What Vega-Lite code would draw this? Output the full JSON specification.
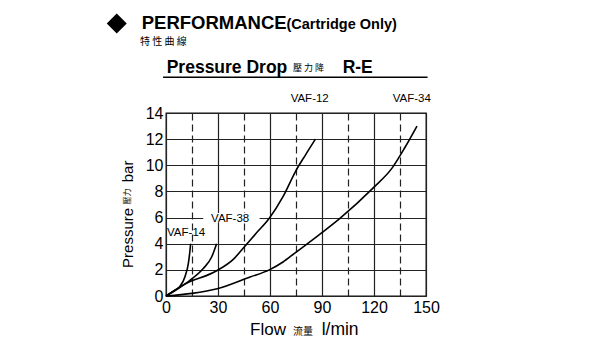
{
  "$schema": "https://vega.github.io/schema/vega-lite/v6.json",
  "autosize": {"type": "none"},
  "width": 260,
  "height": 183,
  "padding": {"left": 166, "top": 113, "right": 174, "bottom": 54},
  "background": "white",
  "config": {"font": "Liberation Sans", "view": {"stroke": "#111", "strokeWidth": 1.3}},
  "resolve": {"axis": {"x": "independent", "y": "independent"}},
  "datasets": {
    "curves": [
      {"series": "VAF-14", "flow": 0, "pressure": 0},
      {"series": "VAF-14", "flow": 2.3, "pressure": 0.2},
      {"series": "VAF-14", "flow": 5, "pressure": 0.42},
      {"series": "VAF-14", "flow": 8.1, "pressure": 0.75},
      {"series": "VAF-14", "flow": 11, "pressure": 1.5},
      {"series": "VAF-14", "flow": 12.9, "pressure": 2.5},
      {"series": "VAF-14", "flow": 13.6, "pressure": 3.2},
      {"series": "VAF-14", "flow": 14.2, "pressure": 4.0},
      {"series": "VAF-38", "flow": 0, "pressure": 0},
      {"series": "VAF-38", "flow": 6.2, "pressure": 0.5},
      {"series": "VAF-38", "flow": 13.8, "pressure": 1.2},
      {"series": "VAF-38", "flow": 21.5, "pressure": 2.1},
      {"series": "VAF-38", "flow": 26.4, "pressure": 3.0},
      {"series": "VAF-38", "flow": 29.2, "pressure": 4.0},
      {"series": "VAF-12", "flow": 0, "pressure": 0},
      {"series": "VAF-12", "flow": 10, "pressure": 0.85},
      {"series": "VAF-12", "flow": 29.5, "pressure": 1.95},
      {"series": "VAF-12", "flow": 38.8, "pressure": 2.8},
      {"series": "VAF-12", "flow": 44.5, "pressure": 3.65},
      {"series": "VAF-12", "flow": 52, "pressure": 4.8},
      {"series": "VAF-12", "flow": 59.6, "pressure": 5.95},
      {"series": "VAF-12", "flow": 67.5, "pressure": 7.6},
      {"series": "VAF-12", "flow": 75, "pressure": 9.6},
      {"series": "VAF-12", "flow": 80.5, "pressure": 10.8},
      {"series": "VAF-12", "flow": 86.2, "pressure": 12.0},
      {"series": "VAF-34", "flow": 0, "pressure": 0},
      {"series": "VAF-34", "flow": 15, "pressure": 0.2},
      {"series": "VAF-34", "flow": 29.6, "pressure": 0.55},
      {"series": "VAF-34", "flow": 48.5, "pressure": 1.45},
      {"series": "VAF-34", "flow": 59.6, "pressure": 2.0},
      {"series": "VAF-34", "flow": 67.5, "pressure": 2.6},
      {"series": "VAF-34", "flow": 74.5, "pressure": 3.3},
      {"series": "VAF-34", "flow": 88.5, "pressure": 4.7},
      {"series": "VAF-34", "flow": 100, "pressure": 5.9},
      {"series": "VAF-34", "flow": 119.4, "pressure": 8.25},
      {"series": "VAF-34", "flow": 130.5, "pressure": 9.8},
      {"series": "VAF-34", "flow": 138, "pressure": 11.4},
      {"series": "VAF-34", "flow": 144.8, "pressure": 13.0}
    ]
  },
  "layer": [
    {
      "data": {"name": "curves"},
      "mark": {"type": "line", "interpolate": "monotone", "color": "black", "strokeWidth": 1.6},
      "encoding": {
        "x": {"field": "flow", "type": "quantitative", "scale": {"domain": [0, 150], "nice": false, "zero": false},
          "axis": {"zindex": 0, "values": [0, 15, 30, 45, 60, 75, 90, 105, 120, 135, 150], "labelExpr": "datum.value % 30 === 0 ? datum.label : ''", "title": null, "domain": false, "ticks": false, "grid": true, "gridColor": "#222", "gridWidth": 1.2, "gridDash": {"condition": {"test": "datum.value % 30 !== 0", "value": [7, 4]}, "value": [1, 0]}, "labelFont": "Liberation Sans", "labelFontSize": 16, "labelColor": "black", "labelPadding": 3, "labelFlush": false, "labelOverlap": false}},
        "y": {"field": "pressure", "type": "quantitative", "scale": {"domain": [0, 14], "nice": false, "zero": false},
          "axis": {"zindex": 0, "values": [0, 2, 4, 6, 8, 10, 12, 14], "title": null, "domain": false, "ticks": false, "grid": true, "gridColor": "#222", "gridWidth": 1.2, "labelFont": "Liberation Sans", "labelFontSize": 16, "labelColor": "black", "labelPadding": 3, "labelOverlap": false}},
        "detail": {"field": "series"}
      }
    },
    {
      "data": {"values": [{}]},
      "mark": {"type": "rect", "color": "white", "opacity": 1},
      "encoding": {
        "x": {"datum": 21.5, "type": "quantitative", "axis": null},
        "x2": {"datum": 54},
        "y": {"datum": 5.65, "type": "quantitative", "axis": null},
        "y2": {"datum": 6.35}
      }
    },
    {
      "data": {"values": [{}]},
      "mark": {"type": "point", "shape": "diamond", "filled": true, "color": "black", "size": 400, "opacity": 1},
      "encoding": {"x": {"datum": -28.4, "type": "quantitative", "axis": null}, "y": {"datum": 20.85, "type": "quantitative", "axis": null}}
    },
    {
      "data": {"values": [{}]},
      "mark": {"type": "text", "text": "PERFORMANCE", "font": "Liberation Sans", "fontWeight": "bold", "fontSize": 18.5, "align": "left", "baseline": "alphabetic", "color": "black"},
      "encoding": {"x": {"datum": -14.0, "type": "quantitative", "axis": null}, "y": {"datum": 20.42, "type": "quantitative", "axis": null}}
    },
    {
      "data": {"values": [{}]},
      "mark": {"type": "text", "text": "(Cartridge Only)", "font": "Liberation Sans", "fontWeight": "bold", "fontSize": 14.5, "align": "left", "baseline": "alphabetic", "color": "black"},
      "encoding": {"x": {"datum": 69.5, "type": "quantitative", "axis": null}, "y": {"datum": 20.42, "type": "quantitative", "axis": null}}
    },
    {
      "data": {"values": [{}]},
      "mark": {"type": "text", "text": "特 性 曲 線", "font": "Noto Sans CJK TC", "fontSize": 10, "align": "left", "baseline": "alphabetic", "color": "black"},
      "encoding": {"x": {"datum": -15.0, "type": "quantitative", "axis": null}, "y": {"datum": 19.23, "type": "quantitative", "axis": null}}
    },
    {
      "data": {"values": [{}]},
      "mark": {"type": "text", "text": "Pressure Drop", "font": "Liberation Sans", "fontWeight": "bold", "fontSize": 17.5, "align": "left", "baseline": "alphabetic", "color": "black"},
      "encoding": {"x": {"datum": 0.4, "type": "quantitative", "axis": null}, "y": {"datum": 17.08, "type": "quantitative", "axis": null}}
    },
    {
      "data": {"values": [{}]},
      "mark": {"type": "text", "text": "壓 力 降", "font": "Noto Sans CJK TC", "fontSize": 9, "align": "left", "baseline": "alphabetic", "color": "black"},
      "encoding": {"x": {"datum": 73.3, "type": "quantitative", "axis": null}, "y": {"datum": 17.2, "type": "quantitative", "axis": null}}
    },
    {
      "data": {"values": [{}]},
      "mark": {"type": "text", "text": "R-E", "font": "Liberation Sans", "fontWeight": "bold", "fontSize": 17.5, "align": "left", "baseline": "alphabetic", "color": "black"},
      "encoding": {"x": {"datum": 101.9, "type": "quantitative", "axis": null}, "y": {"datum": 17.08, "type": "quantitative", "axis": null}}
    },
    {
      "data": {"values": [{}]},
      "mark": {"type": "rule", "color": "black", "strokeWidth": 1.5},
      "encoding": {"x": {"datum": -1.7, "type": "quantitative", "axis": null}, "x2": {"datum": 150.9}, "y": {"datum": 16.73, "type": "quantitative", "axis": null}}
    },
    {
      "data": {"values": [{}]},
      "mark": {"type": "text", "text": "VAF-14", "font": "Liberation Sans", "fontSize": 11.5, "align": "left", "baseline": "alphabetic", "color": "black"},
      "encoding": {"x": {"datum": 0.6, "type": "quantitative", "axis": null}, "y": {"datum": 4.6, "type": "quantitative", "axis": null}}
    },
    {
      "data": {"values": [{}]},
      "mark": {"type": "text", "text": "VAF-38", "font": "Liberation Sans", "fontSize": 11.5, "align": "left", "baseline": "alphabetic", "color": "black"},
      "encoding": {"x": {"datum": 26.0, "type": "quantitative", "axis": null}, "y": {"datum": 5.64, "type": "quantitative", "axis": null}}
    },
    {
      "data": {"values": [{}]},
      "mark": {"type": "text", "text": "VAF-12", "font": "Liberation Sans", "fontSize": 11.5, "align": "left", "baseline": "alphabetic", "color": "black"},
      "encoding": {"x": {"datum": 71.9, "type": "quantitative", "axis": null}, "y": {"datum": 14.82, "type": "quantitative", "axis": null}}
    },
    {
      "data": {"values": [{}]},
      "mark": {"type": "text", "text": "VAF-34", "font": "Liberation Sans", "fontSize": 11.5, "align": "left", "baseline": "alphabetic", "color": "black"},
      "encoding": {"x": {"datum": 130.8, "type": "quantitative", "axis": null}, "y": {"datum": 14.82, "type": "quantitative", "axis": null}}
    },
    {
      "data": {"values": [{}]},
      "mark": {"type": "text", "text": "Flow", "font": "Liberation Sans", "fontSize": 17, "align": "left", "baseline": "alphabetic", "color": "black"},
      "encoding": {"x": {"datum": 48.5, "type": "quantitative", "axis": null}, "y": {"datum": -3.0, "type": "quantitative", "axis": null}}
    },
    {
      "data": {"values": [{}]},
      "mark": {"type": "text", "text": "流量", "font": "Noto Sans CJK TC", "fontSize": 10, "align": "left", "baseline": "alphabetic", "color": "black"},
      "encoding": {"x": {"datum": 73.3, "type": "quantitative", "axis": null}, "y": {"datum": -2.95, "type": "quantitative", "axis": null}}
    },
    {
      "data": {"values": [{}]},
      "mark": {"type": "text", "text": "l/min", "font": "Liberation Sans", "fontSize": 17.5, "align": "left", "baseline": "alphabetic", "color": "black"},
      "encoding": {"x": {"datum": 89.8, "type": "quantitative", "axis": null}, "y": {"datum": -3.0, "type": "quantitative", "axis": null}}
    },
    {
      "data": {"values": [{}]},
      "mark": {"type": "text", "text": "Pressure", "font": "Liberation Sans", "fontSize": 15, "angle": 270, "align": "left", "baseline": "middle", "color": "black"},
      "encoding": {"x": {"datum": -21.9, "type": "quantitative", "axis": null}, "y": {"datum": 2.15, "type": "quantitative", "axis": null}}
    },
    {
      "data": {"values": [{}]},
      "mark": {"type": "text", "text": "壓力", "font": "Noto Sans CJK TC", "fontSize": 8, "angle": 270, "align": "left", "baseline": "middle", "color": "black"},
      "encoding": {"x": {"datum": -21.9, "type": "quantitative", "axis": null}, "y": {"datum": 7.0, "type": "quantitative", "axis": null}}
    },
    {
      "data": {"values": [{}]},
      "mark": {"type": "text", "text": "bar", "font": "Liberation Sans", "fontSize": 15, "angle": 270, "align": "left", "baseline": "middle", "color": "black"},
      "encoding": {"x": {"datum": -21.9, "type": "quantitative", "axis": null}, "y": {"datum": 8.7, "type": "quantitative", "axis": null}}
    }
  ]
}
